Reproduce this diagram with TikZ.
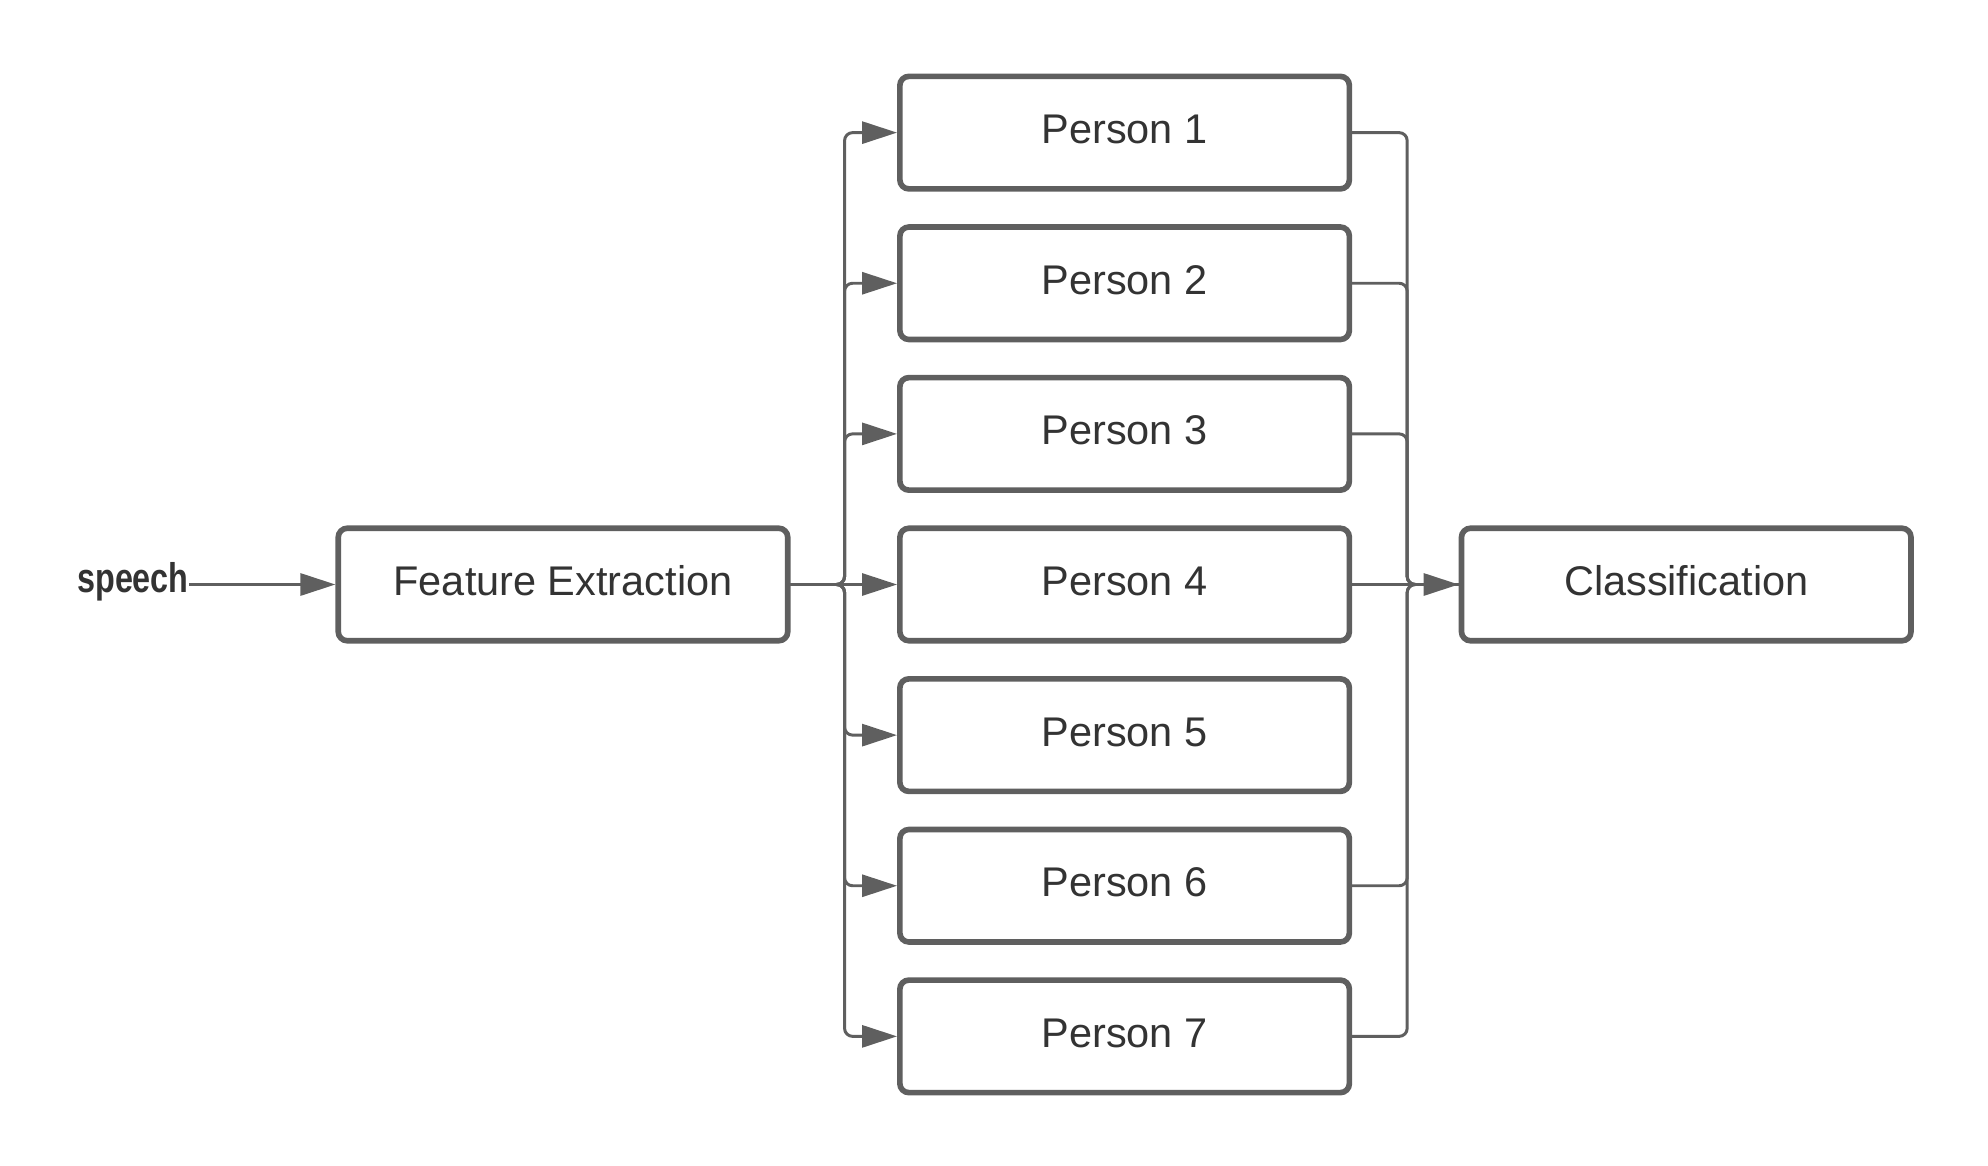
\documentclass[tikz,border=0pt]{standalone}
\usepackage{fontspec}
\setmainfont{Liberation Sans}
\usepackage{graphicx}
\usetikzlibrary{arrows.meta}
\usetikzlibrary{positioning}
\definecolor{clrLines}{HTML}{5F5F5F}
\definecolor{clrText}{HTML}{333333}
\tikzstyle{block_base}=[draw=clrLines, line width=1.6pt, rounded corners=0.9mm,
anchor=center, text centered, text=clrText, font=\fontsize{11.8}{14}\selectfont,
text height=2.2mm, text depth=0pt]
\tikzstyle{block}=[block_base, minimum width=44.95mm, minimum height=11.25mm, fill=white]
\tikzstyle{myarrow}=[-{Triangle[length=3.5mm,width=2.2mm]}, draw=clrLines, line width=0.85pt, rounded corners=0.8mm]
\tikzstyle{link}=[draw=clrLines, line width=0.85pt, rounded corners=0.8mm]
\begin{document}
\begin{tikzpicture}
		\useasboundingbox (0,0) rectangle (19.88,-11.66) ;

		\node[block] (FE) at (5.63,-5.845) {Feature Extraction} ;
		\node[text=clrText, inner sep=0pt, font=\fontsize{11.8}{14}\selectfont, left=14.6mm of FE, yshift=0.3mm] (speech) {\scalebox{0.78}[1]{\bfseries speech}} ;
		\draw[myarrow] (speech.east |- FE.west) -- (FE.west) ;

		% the seven persons, stacked round Person 4
		\node[block, right=10.65mm of FE] (P4) {Person 4} ;
		\node[block, above=3.25mm of P4] (P3) {Person 3} ;
		\node[block, above=3.25mm of P3] (P2) {Person 2} ;
		\node[block, above=3.25mm of P2] (P1) {Person 1} ;
		\node[block, below=3.25mm of P4] (P5) {Person 5} ;
		\node[block, below=3.25mm of P5] (P6) {Person 6} ;
		\node[block, below=3.25mm of P6] (P7) {Person 7} ;

		\node[block, right=10.65mm of P4] (CL) {Classification} ;

		\coordinate[right=5.4mm of FE.east] (busL) ;
		\coordinate[right=5.5mm of P4.east] (busR) ;

		\draw[myarrow] (FE.east) -- (busL) |- (P1.west) ;
		\draw[myarrow] (FE.east) -- (busL) |- (P2.west) ;
		\draw[myarrow] (FE.east) -- (busL) |- (P3.west) ;
		\draw[myarrow] (FE.east) -- (P4.west) ;
		\draw[myarrow] (FE.east) -- (busL) |- (P5.west) ;
		\draw[myarrow] (FE.east) -- (busL) |- (P6.west) ;
		\draw[myarrow] (FE.east) -- (busL) |- (P7.west) ;

		% Person 5 is not joined to the classifier
		\draw[link] (P1.east) -| (busR) -- (CL.west) ;
		\draw[link] (P2.east) -| (busR) -- (CL.west) ;
		\draw[link] (P3.east) -| (busR) -- (CL.west) ;
		\draw[link] (P6.east) -| (busR) -- (CL.west) ;
		\draw[link] (P7.east) -| (busR) -- (CL.west) ;
		\draw[myarrow] (P4.east) -- (CL.west) ;

	\end{tikzpicture}
\end{document}
